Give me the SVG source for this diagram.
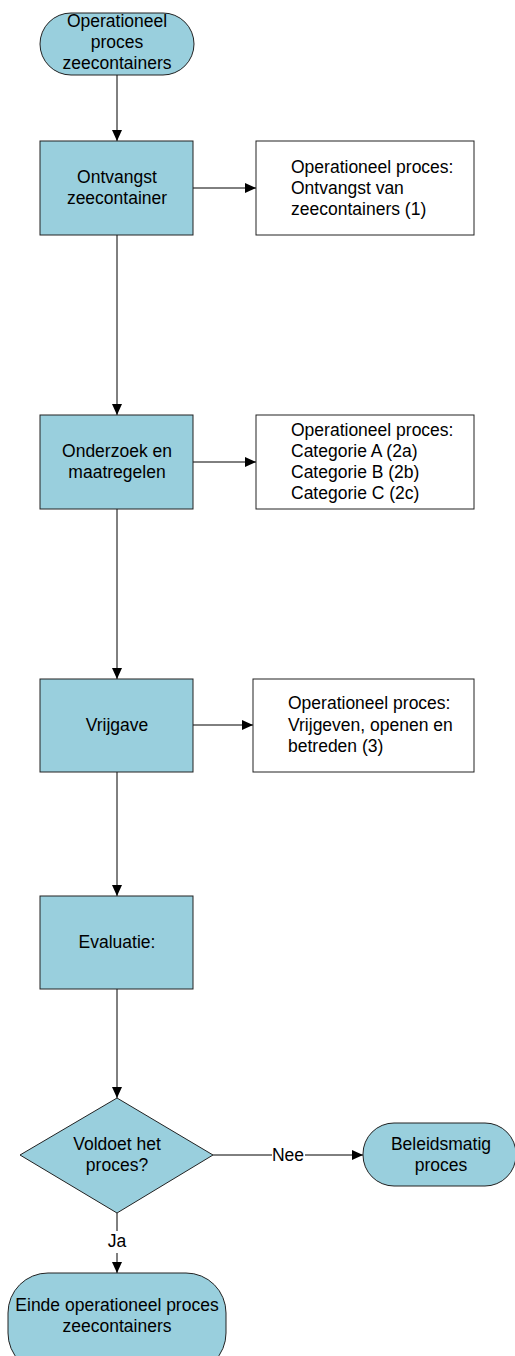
<svg xmlns="http://www.w3.org/2000/svg" width="515" height="1356" viewBox="0 0 515 1356">
<style>
.s{fill:#99cfdd;stroke:#222;stroke-width:1}
.b{fill:#fff;stroke:#222;stroke-width:1}
.c{fill:none;stroke:#000;stroke-width:1}
text{font-family:"Liberation Sans",Arial,sans-serif;font-size:17.5px;fill:#000}
.m{text-anchor:middle}
</style>
<defs>
<marker id="ah" markerUnits="userSpaceOnUse" markerWidth="12" markerHeight="10" refX="11" refY="5" orient="auto">
<path d="M0,0 L11,5 L0,10 Z" fill="#000"/>
</marker>
</defs>
<rect width="515" height="1356" fill="#fff"/>
<g id="connectors">
<line class="c" x1="117" y1="75" x2="117" y2="141" marker-end="url(#ah)"/>
<line class="c" x1="193" y1="188" x2="256" y2="188" marker-end="url(#ah)"/>
<line class="c" x1="117" y1="235" x2="117" y2="415" marker-end="url(#ah)"/>
<line class="c" x1="193" y1="462" x2="256" y2="462" marker-end="url(#ah)"/>
<line class="c" x1="117" y1="509" x2="117" y2="679" marker-end="url(#ah)"/>
<line class="c" x1="193" y1="725" x2="253" y2="725" marker-end="url(#ah)"/>
<line class="c" x1="117" y1="772" x2="117" y2="896" marker-end="url(#ah)"/>
<line class="c" x1="117" y1="989" x2="117" y2="1098" marker-end="url(#ah)"/>
<line class="c" x1="213" y1="1155" x2="363" y2="1155" marker-end="url(#ah)"/>
<rect x="272" y="1146" width="33" height="18" fill="#fff"/>
<text class="m" x="288" y="1161">Nee</text>
<line class="c" x1="117" y1="1213" x2="117" y2="1273" marker-end="url(#ah)"/>
<rect x="106" y="1231" width="22" height="22" fill="#fff"/>
<text class="m" x="117" y="1247">Ja</text>
</g>
<g id="start">
<rect class="s" x="40" y="13" width="154" height="62" rx="31" ry="31"/>
<text class="m" x="117" y="27">Operationeel</text>
<text class="m" x="117" y="48">proces</text>
<text class="m" x="117" y="69">zeecontainers</text>
</g>
<g id="ontvangst">
<rect class="s" x="40" y="141" width="153" height="94"/>
<text class="m" x="117" y="183">Ontvangst</text>
<text class="m" x="117" y="204">zeecontainer</text>
</g>
<g id="info1">
<rect class="b" x="256" y="141" width="218" height="94"/>
<text x="291" y="173">Operationeel proces:</text>
<text x="291" y="194">Ontvangst van</text>
<text x="291" y="215">zeecontainers (1)</text>
</g>
<g id="onderzoek">
<rect class="s" x="40" y="415" width="153" height="94"/>
<text class="m" x="117" y="457">Onderzoek en</text>
<text class="m" x="117" y="478">maatregelen</text>
</g>
<g id="info2">
<rect class="b" x="256" y="415" width="218" height="94"/>
<text x="291" y="436">Operationeel proces:</text>
<text x="291" y="457">Categorie A (2a)</text>
<text x="291" y="478">Categorie B (2b)</text>
<text x="291" y="499">Categorie C (2c)</text>
</g>
<g id="vrijgave">
<rect class="s" x="40" y="679" width="153" height="93"/>
<text class="m" x="117" y="731">Vrijgave</text>
</g>
<g id="info3">
<rect class="b" x="253" y="679" width="221" height="93"/>
<text x="288" y="709">Operationeel proces:</text>
<text x="288" y="731">Vrijgeven, openen en</text>
<text x="288" y="752">betreden (3)</text>
</g>
<g id="evaluatie">
<rect class="s" x="40" y="896" width="153" height="93"/>
<text class="m" x="117" y="948">Evaluatie:</text>
</g>
<g id="beslissing">
<polygon class="s" points="117,1098 213,1155 117,1213 20,1155"/>
<text class="m" x="117" y="1150">Voldoet het</text>
<text class="m" x="117" y="1171">proces?</text>
</g>
<g id="beleid">
<rect class="s" x="363" y="1123" width="153" height="63" rx="31" ry="31"/>
<text class="m" x="441" y="1150">Beleidsmatig</text>
<text class="m" x="441" y="1171">proces</text>
</g>
<g id="einde">
<rect class="s" x="8" y="1273" width="218" height="100" rx="40" ry="40"/>
<text class="m" x="117" y="1311">Einde operationeel proces</text>
<text class="m" x="117" y="1332">zeecontainers</text>
</g>
</svg>
